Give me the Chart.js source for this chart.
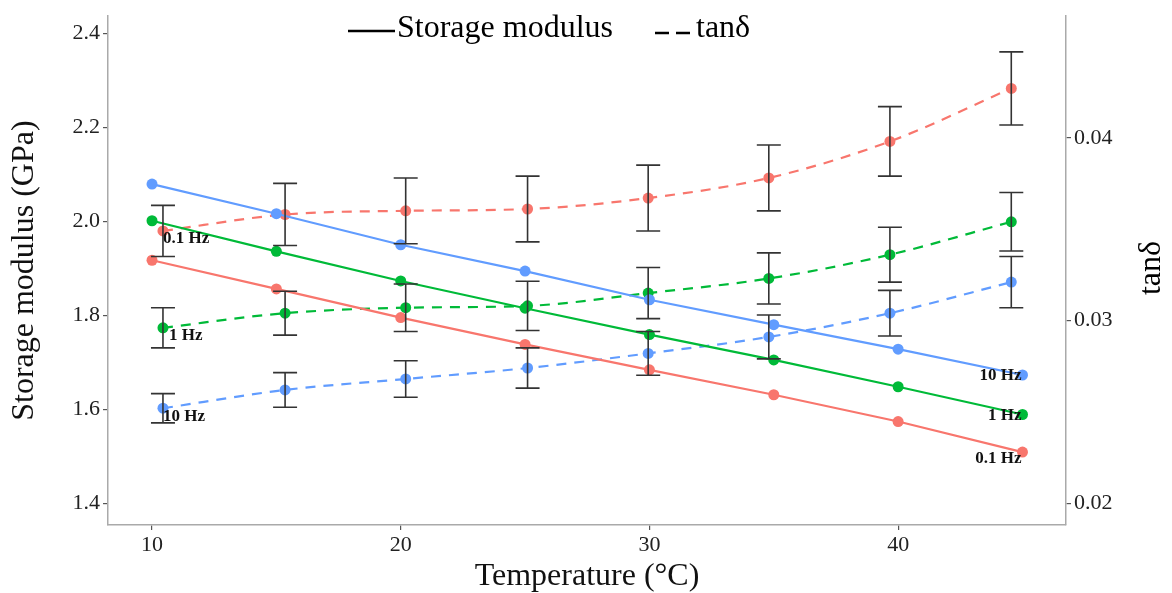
<!DOCTYPE html>
<html>
<head>
<meta charset="utf-8">
<script src="https://cdn.jsdelivr.net/npm/chart.js@4.4.1/dist/chart.umd.min.js"></script>
<style>
  html, body { margin: 0; padding: 0; background: #fff; }
  #wrap { width: 1172px; height: 593px; }
</style>
</head>
<body>
<div id="wrap"><canvas id="dmaChart" width="1172" height="593"></canvas></div>
<script>
// temperatures (°C)
const temps = [10, 15, 20, 25, 30, 35, 40, 45];
// tanδ points are plotted slightly dodged
const tandTemps = [10.44, 15.35, 20.2, 25.1, 29.95, 34.8, 39.67, 44.55];

// storage modulus (GPa)
const storage01 = [1.917, 1.856, 1.795, 1.738, 1.684, 1.631, 1.574, 1.509];
const storage1 = [2.001, 1.936, 1.873, 1.815, 1.759, 1.705, 1.648, 1.589];
const storage10 = [2.079, 2.016, 1.950, 1.894, 1.833, 1.780, 1.728, 1.673];

// tanδ and its error
const tand01 = [0.0349, 0.0358, 0.0360, 0.0361, 0.0367, 0.0378, 0.0398, 0.0427];
const tand01Err = [0.0014, 0.0017, 0.0018, 0.0018, 0.0018, 0.0018, 0.0019, 0.0020];
const tand1 = [0.0296, 0.0304, 0.0307, 0.0308, 0.0315, 0.0323, 0.0336, 0.0354];
const tand1Err = [0.0011, 0.0012, 0.0013, 0.00135, 0.0014, 0.0014, 0.0015, 0.0016];
const tand10 = [0.0252, 0.0262, 0.0268, 0.0274, 0.0282, 0.0291, 0.0304, 0.0321];
const tand10Err = [0.0008, 0.00095, 0.001, 0.0011, 0.0012, 0.0012, 0.00125, 0.0014];

const xTicks = [10, 20, 30, 40];
const yTicks = [1.4, 1.6, 1.8, 2.0, 2.2, 2.4];
const y1Ticks = [0.02, 0.03, 0.04];

const RED = '#F8766D', GREEN = '#00BA38', BLUE = '#619CFF';
const SERIF = '"Liberation Serif", "Times New Roman", serif';

function pts(xs, ys) {
    return xs.map((x, i) => ({ x: x, y: ys[i] }));
}

function solid(label, color, values) {
    return {
        label: label,
        data: pts(temps, values),
        yAxisID: 'y',
        borderColor: color,
        backgroundColor: color,
        borderWidth: 2.2,
        pointRadius: 5.5,
        pointBorderWidth: 0,
        pointBackgroundColor: color
    };
}

function dashed(label, color, values, err) {
    return {
        label: label,
        data: pts(tandTemps, values),
        err: err,
        yAxisID: 'y1',
        borderColor: color,
        backgroundColor: color,
        borderWidth: 2.2,
        borderDash: [10, 8],
        tension: 0.4,
        cubicInterpolationMode: 'monotone',
        pointRadius: 5.5,
        pointBorderWidth: 0,
        pointBackgroundColor: color
    };
}

// error bars for the tanδ series
const errorBars = {
    id: 'errorBars',
    afterDatasetsDraw(chart) {
        const ctx = chart.ctx;
        const xs = chart.scales.x, ys = chart.scales.y1;
        ctx.save();
        ctx.strokeStyle = '#333';
        ctx.lineWidth = 1.6;
        chart.data.datasets.forEach(ds => {
            if (!ds.err) return;
            ds.data.forEach((p, i) => {
                const x = xs.getPixelForValue(p.x);
                const top = ys.getPixelForValue(p.y + ds.err[i]);
                const bot = ys.getPixelForValue(p.y - ds.err[i]);
                ctx.beginPath();
                ctx.moveTo(x, top); ctx.lineTo(x, bot);
                ctx.moveTo(x - 12, top); ctx.lineTo(x + 12, top);
                ctx.moveTo(x - 12, bot); ctx.lineTo(x + 12, bot);
                ctx.stroke();
            });
        });
        ctx.restore();
    }
};

// frequency labels, legend and right title
const extras = {
    id: 'extras',
    afterDraw(chart) {
        const ctx = chart.ctx;
        const xs = chart.scales.x, y = chart.scales.y, y1 = chart.scales.y1;
        ctx.save();
        ctx.fillStyle = '#111';
        ctx.font = 'bold 17px ' + SERIF;
        ctx.textBaseline = 'middle';

        ctx.textAlign = 'left';
        [['0.1 Hz', tand01], ['1 Hz', tand1], ['10 Hz', tand10]].forEach(([t, v]) => {
            const px = xs.getPixelForValue(tandTemps[0]);
            const py = y1.getPixelForValue(v[0]);
            ctx.fillText(t, px + (t === '1 Hz' ? 6 : 0), py + 8);
        });
        ctx.textAlign = 'right';
        [['0.1 Hz', storage01], ['1 Hz', storage1], ['10 Hz', storage10]].forEach(([t, v]) => {
            const px = xs.getPixelForValue(temps[temps.length - 1]);
            const py = y.getPixelForValue(v[v.length - 1]);
            ctx.fillText(t, px - 1, py + (t === '0.1 Hz' ? 6 : 1));
        });

        // legend
        ctx.font = '32px ' + SERIF;
        ctx.textAlign = 'left';
        ctx.fillStyle = '#000';
        ctx.strokeStyle = '#000';
        ctx.lineWidth = 2.5;
        ctx.beginPath();
        ctx.moveTo(348, 31); ctx.lineTo(395, 31);
        ctx.stroke();
        ctx.fillText('Storage modulus', 397, 29);
        ctx.setLineDash([14, 7]);
        ctx.beginPath();
        ctx.moveTo(655, 33); ctx.lineTo(690, 33);
        ctx.stroke();
        ctx.setLineDash([]);
        ctx.fillText('tanδ', 696, 29);

        // right axis title, reading upward
        ctx.font = '32px ' + SERIF;
        ctx.textAlign = 'center';
        ctx.translate(1152, 268);
        ctx.rotate(-Math.PI / 2);
        ctx.fillText('tanδ', 0, 0);
        ctx.restore();
    }
};

const tickFont = { family: SERIF, size: 22 };
const axisGrid = { drawOnChartArea: false, color: '#555', tickLength: 5, lineWidth: 1.2 };
const axisBorder = { color: '#aaa', width: 1.5 };

const ctx = document.getElementById('dmaChart').getContext('2d');
const dmaChart = new Chart(ctx, {
    type: 'line',
    data: {
        datasets: [
            solid('0.1 Hz', RED, storage01),
            solid('1 Hz', GREEN, storage1),
            solid('10 Hz', BLUE, storage10),
            dashed('tanδ 0.1 Hz', RED, tand01, tand01Err),
            dashed('tanδ 1 Hz', GREEN, tand1, tand1Err),
            dashed('tanδ 10 Hz', BLUE, tand10, tand10Err)
        ]
    },
    options: {
        responsive: false,
        animation: false,
        layout: { padding: { top: 10, left: 0, right: 0, bottom: 0 } },
        plugins: {
            legend: { display: false },
            tooltip: { enabled: false }
        },
        scales: {
            x: {
                type: 'linear',
                min: 8.23,
                max: 46.75,
                afterBuildTicks: s => { s.ticks = xTicks.map(v => ({ value: v })); },
                afterFit: s => { s.height = 68; },
                grid: axisGrid,
                border: axisBorder,
                ticks: { font: tickFont, color: '#222', padding: 2 },
                title: {
                    display: true,
                    text: 'Temperature (°C)',
                    font: { family: SERIF, size: 32, lineHeight: 1 },
                    color: '#111',
                    padding: { top: 0, bottom: 0 }
                }
            },
            y: {
                position: 'left',
                min: 1.354,
                max: 2.436,
                afterBuildTicks: s => { s.ticks = yTicks.map(v => ({ value: v })); },
                afterFit: s => { s.width = 108; },
                grid: axisGrid,
                border: axisBorder,
                ticks: { font: tickFont, color: '#222', padding: 3, callback: v => v.toFixed(1) },
                title: {
                    display: true,
                    text: 'Storage modulus (GPa)',
                    font: { family: SERIF, size: 32, lineHeight: 1 },
                    color: '#111',
                    padding: { top: 9, bottom: 0 }
                }
            },
            y1: {
                position: 'right',
                min: 0.01881,
                max: 0.04665,
                afterBuildTicks: s => { s.ticks = y1Ticks.map(v => ({ value: v })); },
                afterFit: s => { s.width = 106; },
                grid: axisGrid,
                border: axisBorder,
                ticks: { font: tickFont, color: '#222', padding: 3, callback: v => v.toFixed(2) }
            }
        }
    },
    plugins: [errorBars, extras]
});
</script>
</body>
</html>
